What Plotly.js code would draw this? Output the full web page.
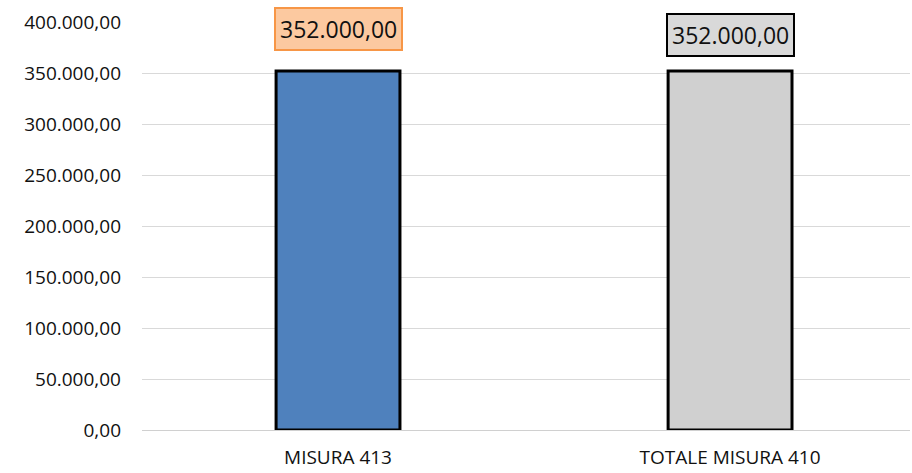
<!DOCTYPE html>
<html><head><meta charset="utf-8">
<script src="https://cdn.plot.ly/plotly-3.0.1.min.js"></script>
<style>html,body{margin:0;padding:0;background:#fff}#c{width:912px;height:473px}</style>
</head><body><div id="c"></div>
<script>
const categories = ["MISURA 413", "TOTALE MISURA 410"];
const values = [352000, 352000];
const labels = ["352.000,00", "352.000,00"];
const barColors = ["#4f81bd", "#d0d0d0"];

const trace = {
  type: "bar",
  x: categories,
  y: values,
  width: 0.316,
  marker: {color: barColors, line: {color: "#000", width: 3}},
  hoverinfo: "none"
};

const annStyles = [
  {bgcolor: "#fcc9a0", bordercolor: "#f79646", yshift: 20},
  {bgcolor: "#d9d9d9", bordercolor: "#000000", yshift: 14}
];
const annotations = categories.map((c, i) => ({
  x: c, y: values[i], xref: "x", yref: "y",
  text: labels[i], showarrow: false, yanchor: "bottom",
  yshift: annStyles[i].yshift,
  bgcolor: annStyles[i].bgcolor, bordercolor: annStyles[i].bordercolor,
  borderwidth: 2, borderpad: 4,
  font: {family: "Open Sans, Liberation Sans, sans-serif", size: 23, color: "#111"}
}));

const layout = {
  width: 912, height: 473,
  margin: {l: 142, r: 2, t: 22, b: 43},
  paper_bgcolor: "#fff", plot_bgcolor: "#fff",
  separators: ",.",
  showlegend: false,
  font: {family: "Open Sans, Liberation Sans, sans-serif", color: "#222"},
  xaxis: {
    type: "category", range: [-0.5, 1.459],
    showgrid: false, zeroline: false, showline: false,
    tickfont: {size: 19, color: "#111"}, ticks: "", ticklabelstandoff: 14
  },
  yaxis: {
    range: [0, 400000], dtick: 50000, tickformat: ",.2f",
    showgrid: true, gridcolor: "#d9d9d9", gridwidth: 1,
    zeroline: true, zerolinecolor: "#d0d0d0", zerolinewidth: 1,
    showline: false, ticks: "", ticklabelstandoff: 20,
    tickfont: {size: 19, color: "#111"}
  },
  annotations: annotations
};

Plotly.newPlot("c", [trace], layout, {staticPlot: true});
</script></body></html>
